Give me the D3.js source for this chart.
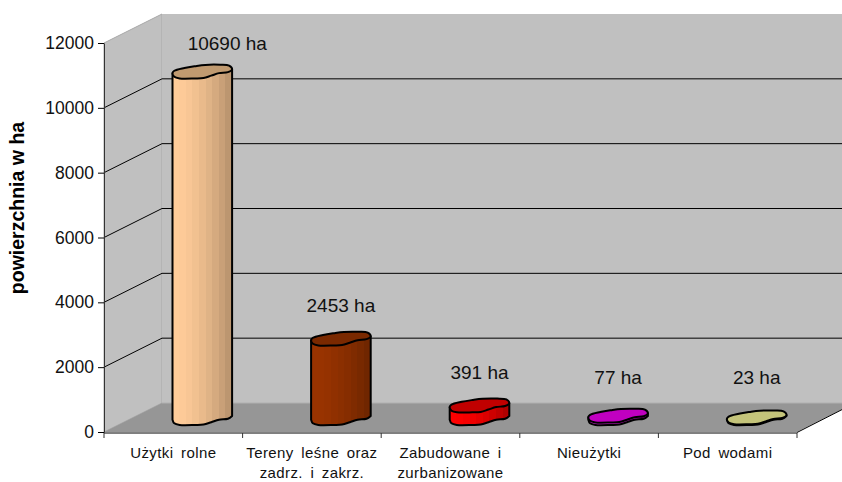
<!DOCTYPE html>
<html>
<head>
<meta charset="utf-8">
<script src="https://cdnjs.cloudflare.com/ajax/libs/d3/7.8.5/d3.min.js"></script>
<style>
html, body { margin: 0; padding: 0; background: #fff; }
svg { display: block; font-family: "Liberation Sans", Arial, sans-serif; }
</style>
</head>
<body>
<svg id="chart" width="842" height="482"></svg>
<script>
const categories = [['Użytki rolne'], ['Tereny leśne oraz', 'zadrz. i zakrz.'], ['Zabudowane i', 'zurbanizowane'], ['Nieużytki'], ['Pod wodami']];
const values = [10690, 2453, 391, 77, 23];
const valueLabels = ['10690 ha', '2453 ha', '391 ha', '77 ha', '23 ha'];
const yTicks = [0, 2000, 4000, 6000, 8000, 10000, 12000];
const bodyLight = ['#ffcc99', '#993300', '#ff0000', '#e020e0', '#d8d888'];
const bodyDark = ['#bc9670', '#702600', '#b00000', '#a000a0', '#8f8f50'];
const capColors = ['#c09a70', '#7a2900', '#c00000', '#c000c0', '#c4c47a'];

const svg = d3.select('#chart');
const plotLeft = 104, plotRight = 797, plotTop = 43, plotBottom = 432;
const depthX = 58, depthY = 29, capH = 14;

const x = d3.scaleBand().domain(d3.range(values.length)).range([plotLeft, plotRight]).paddingInner(0.57).paddingOuter(0.285);
const xTick = d3.scaleBand().domain(d3.range(values.length)).range([plotLeft, plotRight]);
const y = d3.scaleLinear().domain([0, 12000]).range([plotBottom, plotTop]);

// side wall, back wall, floor
svg.append('path').attr('fill', '#c0c0c0').attr('stroke', '#a8a8a8')
  .attr('d', `M${plotLeft},${y(0)}L${plotLeft},${y(12000)}L${plotLeft + depthX},${y(12000) - depthY}L${plotLeft + depthX},${y(0) - depthY}Z`);
svg.append('rect').attr('fill', '#c0c0c0')
  .attr('x', plotLeft + depthX).attr('y', y(12000) - depthY)
  .attr('width', plotRight - plotLeft).attr('height', y(0) - y(12000));
svg.append('path').attr('fill', '#969696')
  .attr('d', `M${plotLeft},${y(0)}L${plotLeft + depthX},${y(0) - depthY}L${plotRight + depthX},${y(0) - depthY}L${plotRight},${y(0)}Z`);
svg.append('line').attr('stroke', '#b0b0b0')
  .attr('x1', plotLeft + depthX).attr('x2', plotRight + depthX)
  .attr('y1', y(0) - depthY).attr('y2', y(0) - depthY);
svg.append('line').attr('stroke', '#000')
  .attr('x1', plotRight).attr('y1', y(0) + 0.5)
  .attr('x2', plotRight + depthX).attr('y2', y(0) - depthY);

// gridlines
const gridVals = yTicks.filter(d => d > 0 && d < 12000);
svg.selectAll('.grid').data(gridVals).join('path').attr('class', 'grid')
  .attr('fill', 'none').attr('stroke', '#000')
  .attr('d', d => `M${plotLeft},${y(d)}L${plotLeft + depthX},${y(d) - depthY}L${plotRight + depthX},${y(d) - depthY}`);

// axes
const yAxis = svg.append('g').attr('transform', `translate(${plotLeft},0)`)
  .call(d3.axisLeft(y).tickValues(yTicks).tickFormat(d3.format('d')).tickSize(6).tickSizeOuter(0).tickPadding(4));
yAxis.selectAll('text').attr('font-size', 17.5).attr('fill', '#111');
yAxis.select('.domain').attr('stroke', '#333');

const xAxis = svg.append('g').attr('transform', `translate(0,${plotBottom + 1})`);
xAxis.append('line').attr('stroke', '#000').attr('x1', plotLeft).attr('x2', plotRight);
xAxis.selectAll('.tick').data(d3.range(values.length + 1)).join('line').attr('class', 'tick')
  .attr('stroke', '#333')
  .attr('x1', d => plotLeft + d * xTick.step()).attr('x2', d => plotLeft + d * xTick.step())
  .attr('y1', 0).attr('y2', 5);

svg.selectAll('.cat').data(categories).join('text').attr('class', 'cat')
  .attr('text-anchor', 'middle').attr('font-size', 15).attr('fill', '#111')
  .attr('letter-spacing', 0.4).attr('word-spacing', 3)
  .attr('transform', (d, i) => `translate(${xTick(i) + xTick.bandwidth() / 2},0)`)
  .selectAll('tspan').data(d => d).join('tspan')
  .attr('x', 0).attr('y', (d, i) => 458 + i * 20).text(d => d);

svg.append('text').attr('text-anchor', 'middle').attr('font-size', 19.5).attr('font-weight', 'bold')
  .attr('transform', 'translate(24,208) rotate(-90)').text('powierzchnia w ha');

// wobbly cylinder outline, front half first then back
const frontShape = [[1, .35], [.93, .55], [.78, .62], [.65, .8], [.52, .97], [.38, 1], [.12, 1], [.03, .88], [0, .62]];
const backShape = [[.03, .45], [.2, .25], [.38, .12], [.55, .03], [.8, .02], [.95, .08]];

const defs = svg.append('defs');
values.forEach((v, i) => {
  const g = defs.append('linearGradient').attr('id', 'body' + i);
  const mix = d3.interpolateRgb(bodyLight[i], bodyDark[i]);
  d3.range(9).forEach(k => {
    const c = mix(Math.pow(k / 8, 1.6));
    g.append('stop').attr('offset', k / 9).attr('stop-color', c);
    g.append('stop').attr('offset', (k + 1) / 9).attr('stop-color', c);
  });
});

const bars = svg.selectAll('.bar').data(values).join('g').attr('class', 'bar');
bars.each(function (v, i) {
  const g = d3.select(this);
  const bx = x(i) + depthX / 2, bw = x.bandwidth();
  const capTop = y(v) - 7 - capH, baseTop = y(0) - 7 - capH;
  const px = d => bx + d[0] * bw;
  const front = d3.line().x(px).y(d => baseTop + d[1] * capH).curve(d3.curveCatmullRom)(frontShape);
  const cap = d3.line().x(px).y(d => capTop + d[1] * capH).curve(d3.curveCatmullRomClosed)(frontShape.concat(backShape));
  const rgt = frontShape[0], lft = frontShape[frontShape.length - 1];
  g.append('path').attr('fill', `url(#body${i})`).attr('stroke', '#000').attr('stroke-width', 2)
    .attr('stroke-linejoin', 'round')
    .attr('d', `M${px(rgt)},${capTop + rgt[1] * capH}L` + front.slice(1)
      + `L${px(lft)},${capTop + lft[1] * capH}Z`);
  g.append('path').attr('fill', capColors[i]).attr('stroke', '#000').attr('stroke-width', 2).attr('d', cap);
});

svg.selectAll('.val').data(values).join('text').attr('class', 'val')
  .attr('text-anchor', 'middle').attr('font-size', 19).attr('fill', '#111')
  .attr('x', (d, i) => x(i) + depthX / 2 + x.bandwidth() / 2 + (i === 0 ? 25 : 0))
  .attr('y', (d, i) => Math.min(y(d) - (i === 0 ? 35 : 40), 384))
  .text((d, i) => valueLabels[i]);
</script>
</body>
</html>
